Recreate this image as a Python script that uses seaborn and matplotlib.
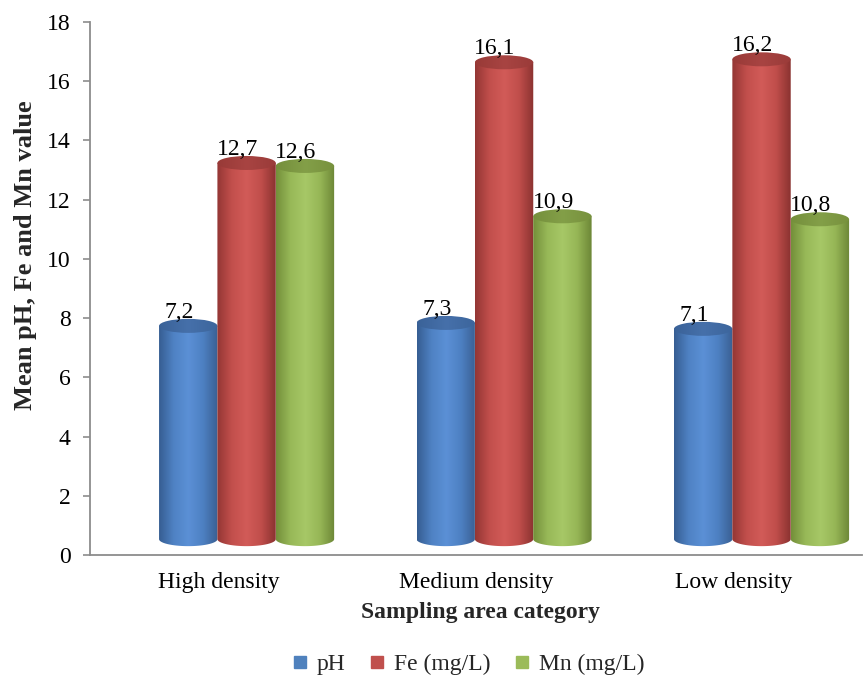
import numpy as np
import pandas as pd
import seaborn as sns
import matplotlib.pyplot as plt
import matplotlib.transforms as mtransforms
from matplotlib.colors import LinearSegmentedColormap
from matplotlib.patches import Ellipse, PathPatch
from matplotlib.path import Path
from matplotlib.lines import Line2D

# ---- data ----
categories = ["High density", "Medium density", "Low density"]
series = ["pH", "Fe (mg/L)", "Mn (mg/L)"]
ph_values = [7.2, 7.3, 7.1]
fe_values = [12.7, 16.1, 16.2]
mn_values = [12.6, 10.9, 10.8]
y_ticks = [0, 2, 4, 6, 8, 10, 12, 14, 16, 18]

df = pd.DataFrame({
    "category": categories * 3,
    "series": np.repeat(series, len(categories)),
    "value": ph_values + fe_values + mn_values,
})

base_colors = {"pH": "#4F81BD", "Fe (mg/L)": "#C0504D", "Mn (mg/L)": "#9BBB59"}
# side shading of each cylinder: dark edge -> highlight -> base -> dark edge
body_shades = {
    "pH": ["#365d92", "#4f82c4", "#5b90d6", "#4d80c2", "#3a5f92"],
    "Fe (mg/L)": ["#933634", "#c24f4c", "#d25b58", "#c04e4b", "#8a3230"],
    "Mn (mg/L)": ["#738f3a", "#98b958", "#a7c867", "#96b656", "#6c8636"],
}
top_shades = {
    "pH": ["#3a6298", "#4670aa", "#3c659c"],
    "Fe (mg/L)": ["#983a37", "#a84442", "#9a3b39"],
    "Mn (mg/L)": ["#758f3c", "#839f48", "#77913d"],
}

sns.set_theme(style="white")
plt.rcParams["font.family"] = ["Liberation Serif", "DejaVu Serif"]

DPI = 100
fig = plt.figure(figsize=(8.64, 6.77), dpi=DPI)
ax = fig.add_axes([0.104, 0.180, 0.894, 0.7875])

sns.barplot(data=df, x="category", y="value", hue="series",
            order=categories, hue_order=series, palette=base_colors,
            width=0.68, errorbar=None, ax=ax, legend=False)

ax.set_xlim(-0.5, 2.5)
ax.set_ylim(0, 18)

# depth offset of the 3D cylinders (pixels)
dx_px, dy_px = 28, 16
ell_px = 14
shift = mtransforms.ScaledTranslation(dx_px / DPI, dy_px / DPI, fig.dpi_scale_trans)
tr = ax.transData + shift
px_per_unit = ax.get_position().height * fig.get_figheight() * DPI / 18.0
eh = ell_px / px_per_unit

grad = np.linspace(0, 1, 256).reshape(1, -1)

for s_idx, (name, container) in enumerate(zip(series, ax.containers)):
    body_cmap = LinearSegmentedColormap.from_list(name + "_body", body_shades[name])
    top_cmap = LinearSegmentedColormap.from_list(name + "_top", top_shades[name])
    for bar in container:
        x0 = bar.get_x()
        w = bar.get_width()
        h = bar.get_height()
        cx = x0 + w / 2
        bar.set_visible(False)

        # body outline: rectangle closed by the lower half of the base ellipse
        t = np.linspace(0, -np.pi, 60)
        arc = np.column_stack([cx + (w / 2) * np.cos(t), (eh / 2) * np.sin(t)])
        verts = np.vstack([[[x0, h], [x0 + w, h]], arc, [[x0, h]]])
        codes = [Path.MOVETO] + [Path.LINETO] * (len(verts) - 2) + [Path.CLOSEPOLY]
        body = PathPatch(Path(verts, codes), transform=tr, facecolor="none", edgecolor="none")
        im = ax.imshow(grad, cmap=body_cmap, extent=[x0, x0 + w, -eh, h],
                       aspect="auto", transform=tr, zorder=2 + s_idx * 0.1,
                       interpolation="bilinear")
        im.set_clip_path(body)

        top = Ellipse((cx, h), w, eh, transform=tr, facecolor="none", edgecolor="none")
        ax.add_patch(top)
        im_top = ax.imshow(grad, cmap=top_cmap, extent=[x0, x0 + w, h - eh, h + eh],
                           aspect="auto", transform=tr, zorder=2.05 + s_idx * 0.1,
                           interpolation="bilinear")
        im_top.set_clip_path(top)

        label_tr = ax.transData + mtransforms.ScaledTranslation(
            (dx_px - 9) / DPI, (dy_px + ell_px / 2 + 1) / DPI, fig.dpi_scale_trans)
        ax.text(cx, h, f"{h:.1f}".replace(".", ","), transform=label_tr,
                ha="center", va="baseline", fontsize=17, color="black", zorder=5)

ax.set_xlim(-0.5, 2.5)
ax.set_ylim(0, 18)
ax.set_yticks(y_ticks)
ax.set_yticklabels([str(v) for v in y_ticks])

for side in ["top", "right"]:
    ax.spines[side].set_visible(False)
for side in ["left", "bottom"]:
    ax.spines[side].set_color("#8c8c8c")
    ax.spines[side].set_linewidth(1.3)

ax.tick_params(axis="y", left=True, length=5, width=1.2, color="#8c8c8c",
               labelsize=17, pad=9, labelcolor="black")
ax.tick_params(axis="x", bottom=False, length=0, labelsize=17, pad=12,
               labelcolor="black")

ax.set_xlabel("Sampling area category", fontsize=17, fontweight="bold")
ax.xaxis.set_label_coords(0.506, -0.088)
ax.set_ylabel("Mean pH, Fe and Mn value", fontsize=19, fontweight="bold")
ax.yaxis.set_label_coords(-0.068, 0.563)

handles = [Line2D([0], [0], marker="s", linestyle="none", markersize=8,
                  markerfacecolor=base_colors[n], markeredgecolor=base_colors[n])
           for n in series]
fig.legend(handles, series, loc="center", bbox_to_anchor=(0.541, 0.019), ncol=3,
           frameon=False, fontsize=17, handletextpad=0.3, columnspacing=0.95,
           handlelength=0.8)

fig.savefig("out.png", dpi=DPI)
